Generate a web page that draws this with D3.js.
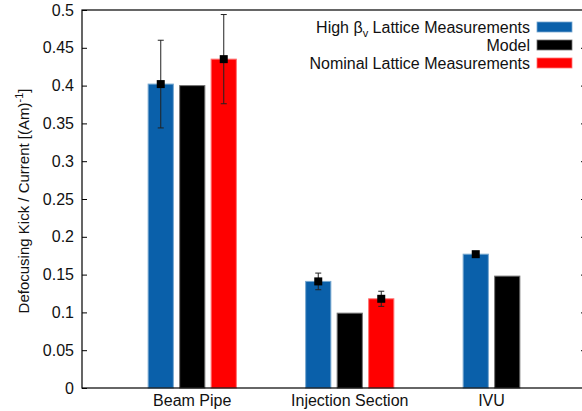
<!DOCTYPE html>
<html>
<head>
<meta charset="utf-8">
<script src="https://cdn.jsdelivr.net/npm/d3@7"></script>
<style>
  body { margin: 0; background: #fff; }
  text { font-family: "Liberation Sans", Arial, sans-serif; fill: #111; }
</style>
</head>
<body>
<div id="chart"></div>
<script>
// data
var categories = ["Beam Pipe", "Injection Section", "IVU"];
var highBeta = [0.402, 0.141, 0.177];
var highBetaErr = [0.058, 0.011, 0.003];
var model = [0.400, 0.099, 0.148];
var nominal = [0.435, 0.118, null];
var nominalErr = [0.059, 0.010, null];
var yTicks = [0, 0.05, 0.1, 0.15, 0.2, 0.25, 0.3, 0.35, 0.4, 0.45, 0.5];

var seriesNames = ["High βv Lattice Measurements", "Model", "Nominal Lattice Measurements"];
var seriesColors = ["#0a60aa", "#000000", "#ff0000"];

var svgWidth = 582, svgHeight = 411;
var margin = { top: 10, right: -4, bottom: 23, left: 82 };
var chartWidth = svgWidth - margin.left - margin.right;
var chartHeight = svgHeight - margin.top - margin.bottom;

var svg = d3.select("#chart").append("svg")
  .attr("width", svgWidth)
  .attr("height", svgHeight);

var chartGroup = svg.append("g")
  .attr("transform", `translate(${margin.left}, ${margin.top})`);

// groups sit at 0,1,2 on a linear x axis, like a clustered histogram
var xScale = d3.scaleLinear().domain([-0.7, 2.5]).range([0, chartWidth]);
var yScale = d3.scaleLinear().domain([0, 0.5]).range([chartHeight, 0]);

var barOffset = 0.2, barWidth = 0.16;

// build the bar table from the arrays
var series = [
  { values: highBeta, errs: highBetaErr },
  { values: model, errs: null },
  { values: nominal, errs: nominalErr }
];
var bars = [];
series.forEach(function(s, si) {
  s.values.forEach(function(v, gi) {
    if (v == null) return;
    bars.push({ group: gi, series: si, value: v, err: s.errs ? s.errs[gi] : null });
  });
});

// bars
chartGroup.selectAll("rect.bar")
  .data(bars)
  .enter()
  .append("rect")
  .attr("class", "bar")
  .attr("x", d => xScale(d.group + (d.series - 1) * barOffset - barWidth / 2))
  .attr("width", d => xScale(barWidth) - xScale(0))
  .attr("y", d => yScale(d.value))
  .attr("height", d => yScale(0) - yScale(d.value))
  .attr("fill", d => seriesColors[d.series])
  .attr("stroke", d => d3.interpolateRgb(seriesColors[d.series], "#ffffff")(0.45))
  .attr("stroke-width", 1);

// error bars with square markers
var errData = bars.filter(d => d.err != null);
var capHalf = 3;
var errG = chartGroup.selectAll("g.err")
  .data(errData)
  .enter()
  .append("g")
  .attr("class", "err")
  .attr("stroke", "#222")
  .attr("stroke-width", 1);
errG.append("line")
  .attr("x1", d => xScale(d.group + (d.series - 1) * barOffset))
  .attr("x2", d => xScale(d.group + (d.series - 1) * barOffset))
  .attr("y1", d => yScale(d.value - d.err))
  .attr("y2", d => yScale(d.value + d.err));
errG.append("line")
  .attr("x1", d => xScale(d.group + (d.series - 1) * barOffset) - capHalf)
  .attr("x2", d => xScale(d.group + (d.series - 1) * barOffset) + capHalf)
  .attr("y1", d => yScale(d.value + d.err))
  .attr("y2", d => yScale(d.value + d.err));
errG.append("line")
  .attr("x1", d => xScale(d.group + (d.series - 1) * barOffset) - capHalf)
  .attr("x2", d => xScale(d.group + (d.series - 1) * barOffset) + capHalf)
  .attr("y1", d => yScale(d.value - d.err))
  .attr("y2", d => yScale(d.value - d.err));
chartGroup.selectAll("rect.marker")
  .data(errData)
  .enter()
  .append("rect")
  .attr("class", "marker")
  .attr("x", d => xScale(d.group + (d.series - 1) * barOffset) - 4)
  .attr("y", d => yScale(d.value) - 4)
  .attr("width", 8)
  .attr("height", 8)
  .attr("fill", "#000");

// frame
chartGroup.append("rect")
  .attr("width", chartWidth)
  .attr("height", chartHeight)
  .attr("fill", "none")
  .attr("stroke", "#000")
  .attr("stroke-width", 1.2);

// left axis, ticks pointing inward
var leftAxis = d3.axisLeft(yScale).tickValues(yTicks).tickSize(-5).tickPadding(8)
  .tickFormat(d3.format("~g"));
var leftG = chartGroup.append("g").call(leftAxis);
leftG.select(".domain").remove();
leftG.selectAll("text").style("font-size", "16px").style("font-family", "'Liberation Sans', Arial, sans-serif").attr("fill", "#111");

// mirrored ticks on the right
var rightAxis = d3.axisRight(yScale).tickValues(yTicks.slice(1, -1)).tickSize(-5).tickFormat("");
var rightG = chartGroup.append("g")
  .attr("transform", `translate(${chartWidth}, 0)`)
  .call(rightAxis);
rightG.select(".domain").remove();

// category labels centred under the bars each group has
chartGroup.selectAll("text.cat")
  .data(categories)
  .enter()
  .append("text")
  .attr("class", "cat")
  .attr("x", function(d, gi) {
    var pos = bars.filter(b => b.group === gi).map(b => xScale(b.group + (b.series - 1) * barOffset));
    return d3.mean(pos);
  })
  .attr("y", chartHeight + 18)
  .attr("text-anchor", "middle")
  .style("font-size", "16px")
  .text(d => d);

// y axis title
var yTitle = chartGroup.append("text")
  .attr("transform", "rotate(-90)")
  .attr("x", -chartHeight / 2 - 2)
  .attr("y", -53)
  .attr("text-anchor", "middle")
  .style("font-size", "15px");
yTitle.append("tspan").text("Defocusing Kick / Current [(Am)");
yTitle.append("tspan").attr("dy", -6).style("font-size", "11px").text("-1");
yTitle.append("tspan").attr("dy", 6).text("]");

// legend
var legend = chartGroup.append("g");
var legendRows = legend.selectAll("g")
  .data(seriesNames)
  .enter()
  .append("g")
  .attr("transform", (d, i) => `translate(0, ${17 + i * 18})`);
legendRows.append("rect")
  .attr("x", 455)
  .attr("y", -5)
  .attr("width", 35)
  .attr("height", 10)
  .attr("fill", (d, i) => seriesColors[i])
  .attr("stroke", (d, i) => d3.interpolateRgb(seriesColors[i], "#ffffff")(0.45))
  .attr("stroke-width", 0.8);
legendRows.append("text")
  .attr("x", 448)
  .attr("y", 6)
  .attr("text-anchor", "end")
  .style("font-size", "16px")
  .each(function(d) {
    var t = d3.select(this);
    if (d.indexOf("βv") >= 0) {
      var parts = d.split("βv");
      t.append("tspan").text(parts[0] + "β");
      t.append("tspan").attr("dy", 4).style("font-size", "11px").text("v");
      t.append("tspan").attr("dy", -4).text(parts[1]);
    } else {
      t.text(d);
    }
  });
</script>
</body>
</html>
